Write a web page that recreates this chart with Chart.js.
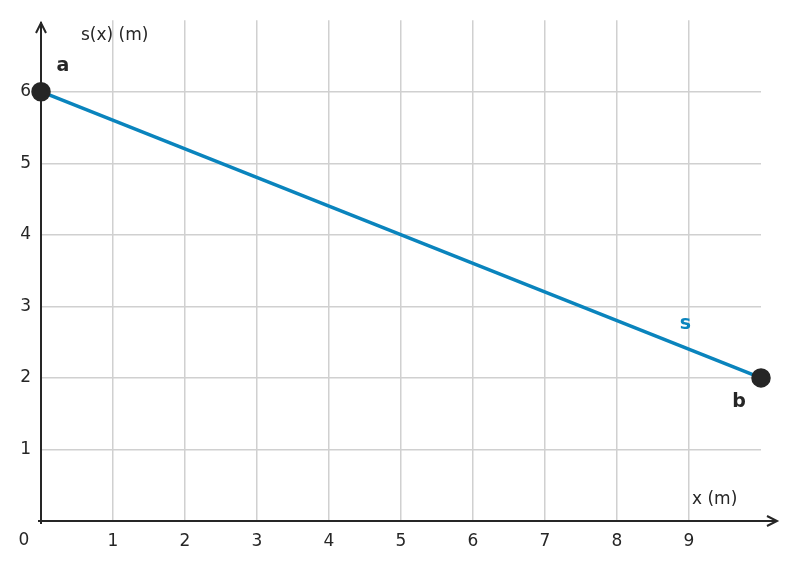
<!DOCTYPE html><html><head><script src="https://cdn.jsdelivr.net/npm/chart.js@4"></script>
<style>body{margin:0}#w{width:785px;height:570px}</style></head><body><div id="w"><canvas id="c"></canvas></div><script>
const xs=[0,10];
const sVals=[6,2];
const xTicks=[1,2,3,4,5,6,7,8,9];
const yTicks=[1,2,3,4,5,6];
const pointLabels=['a','b'];
const F='"DejaVu Sans", sans-serif';
const ink='#262626', blue='#0a84bd';
const deco={id:'deco',afterDatasetsDraw(ch){
 const c=ch.ctx,x=ch.scales.x,y=ch.scales.y;
 const x0=x.getPixelForValue(0),y0=y.getPixelForValue(0);
 c.save();c.strokeStyle=ink;c.lineWidth=2;
 c.beginPath();c.moveTo(x0,y0+3);c.lineTo(x0,22);c.stroke();
 c.beginPath();c.moveTo(x0-5,33);c.lineTo(x0,23);c.lineTo(x0+5,33);c.stroke();
 c.beginPath();c.moveTo(x0-3,y0);c.lineTo(777,y0);c.stroke();
 c.beginPath();c.moveTo(767,y0-5);c.lineTo(777,y0);c.lineTo(767,y0+5);c.stroke();
 c.fillStyle=ink;c.font='17px '+F;c.textAlign='left';c.textBaseline='middle';
 c.fillText('s(x) (m)',81,36);c.fillText('x (m)',692,500);
 c.textAlign='center';c.fillText('0',24,541);
 c.font='bold 19px '+F;
 c.fillText(pointLabels[0],x.getPixelForValue(xs[0])+22,y.getPixelForValue(sVals[0])-26);
 c.fillText(pointLabels[1],x.getPixelForValue(xs[1])-22,y.getPixelForValue(sVals[1])+24);
 c.fillStyle=blue;c.fillText('s',x.getPixelForValue(8.95),y.getPixelForValue(2.75));
 c.restore();}};
new Chart(document.getElementById('c'),{type:'scatter',
 data:{datasets:[{data:xs.map((v,i)=>({x:v,y:sVals[i]})),showLine:true,borderColor:blue,borderWidth:3.5,
  pointRadius:8,pointBackgroundColor:ink,pointBorderColor:ink,clip:false}]},
 options:{responsive:true,maintainAspectRatio:false,animation:false,
  layout:{padding:{top:18,right:24,left:0,bottom:0}},
  plugins:{legend:{display:false},tooltip:{enabled:false}},
  scales:{
   x:{type:'linear',min:0,max:10,afterFit:s=>{s.height=49},afterBuildTicks:s=>{s.ticks=[0,...xTicks,10].map(v=>({value:v}))},
    border:{display:false},grid:{color:c=>(c.tick&&(c.tick.value===0||c.tick.value===10))?'rgba(0,0,0,0)':'#d0d0d0',lineWidth:1.5,drawTicks:false},
    ticks:{padding:10,color:ink,font:{family:F,size:17},callback:v=>xTicks.includes(v)?String(v):''}},
   y:{min:0,max:7,afterFit:s=>{s.width=41},afterBuildTicks:s=>{s.ticks=[0,...yTicks,7].map(v=>({value:v}))},
    border:{display:false},grid:{color:c=>(c.tick&&(c.tick.value===0||c.tick.value===7))?'rgba(0,0,0,0)':'#d0d0d0',lineWidth:1.5,drawTicks:false},
    ticks:{padding:10,color:ink,font:{family:F,size:17},callback:v=>yTicks.includes(v)?String(v):''}}}},
 plugins:[deco]});
</script></body></html>
